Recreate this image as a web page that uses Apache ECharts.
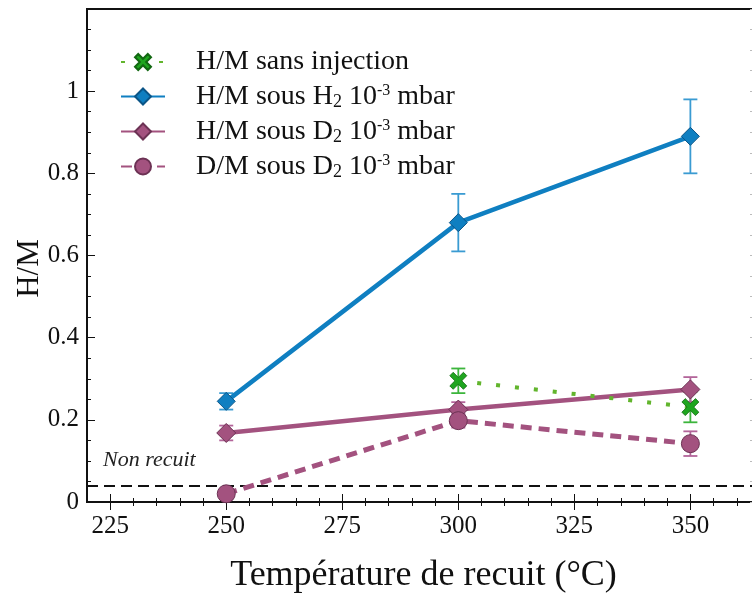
<!DOCTYPE html>
<html>
<head>
<meta charset="utf-8">
<script src="https://cdn.jsdelivr.net/npm/echarts@6/dist/echarts.min.js"></script>
<style>html,body{margin:0;padding:0;background:#fff;}#c{width:752px;height:595px;}</style>
</head>
<body>
<div id="c"></div>
<script>
// ---- data ----
const temps = [250, 300, 350];
const hmSans = [null, 0.295, 0.231];
const errSans = [null, 0.03, 0.037];
const hmH2 = [0.245, 0.68, 0.89];
const errH2 = [0.02, 0.07, 0.09];
const hmD2 = [0.168, 0.225, 0.274];
const errHD2 = [0.018, 0.018, 0.03];
const dmD2 = [0.02, 0.198, 0.142];
const errDD2 = [0, 0.017, 0.03];
const nonRecuit = 0.04;
const xTicks = [225, 250, 275, 300, 325, 350];
const xMinor = [225,230,235,240,245,250,255,260,265,270,275,280,285,290,295,300,305,310,315,320,325,330,335,340,345,350,355,360];
const yTicks = [0, 0.2, 0.4, 0.6, 0.8, 1, 1.2];
const yMinor = [0.05,0.1,0.15,0.25,0.3,0.35,0.45,0.5,0.55,0.65,0.7,0.75,0.85,0.9,0.95,1.05,1.1,1.15];
const names = ['H/M sans injection', 'H/M sous H2 10-3 mbar', 'H/M sous D2 10-3 mbar', 'D/M sous D2 10-3 mbar'];

const FONT = 'Liberation Serif';
const pts = (arr) => temps.map((t, i) => [t, arr[i]]).filter(p => p[1] !== null);
const errs = (v, e) => temps.map((t, i) => [t, v[i], e[i]]).filter(p => p[1] !== null && p[2]);

function errSeries(v, e, color) {
  return {
    type: 'custom', xAxisIndex: 0, yAxisIndex: 0, z: 4,
    data: errs(v, e).map(p => [p[0], p[1] - p[2], p[1] + p[2]]),
    renderItem: function (params, api) {
      const lo = api.coord([api.value(0), api.value(1)]);
      const hi = api.coord([api.value(0), api.value(2)]);
      const w = 7;
      const st = { stroke: color, lineWidth: 1.8 };
      return { type: 'group', children: [
        { type: 'line', shape: { x1: lo[0], y1: lo[1], x2: hi[0], y2: hi[1] }, style: st },
        { type: 'line', shape: { x1: lo[0] - w, y1: lo[1], x2: lo[0] + w, y2: lo[1] }, style: st },
        { type: 'line', shape: { x1: hi[0] - w, y1: hi[1], x2: hi[0] + w, y2: hi[1] }, style: st }
      ]};
    },
    silent: true
  };
}

const xBase = { type: 'value', min: 220, max: 365, splitLine: { show: false } };
const yBase = { type: 'value', min: 0, max: 1.2, splitLine: { show: false } };
const crossX = 'path://M2,0 L5,3 L8,0 L10,2 L7,5 L10,8 L8,10 L5,7 L2,10 L0,8 L3,5 L0,2 Z';

const chart = echarts.init(document.getElementById('c'), null, { renderer: 'canvas' });
chart.setOption({
  animation: false,
  backgroundColor: '#fff',
  grid: { left: 87, top: 9, right: -8, bottom: 93, show: true, borderColor: '#111', borderWidth: 2,
    backgroundColor: 'transparent', containLabel: false, outerBoundsMode: 'none' },
  legend: {
    data: names, left: 115, top: 43, orient: 'vertical', itemWidth: 44, itemHeight: 20, itemGap: 6,
    formatter: function (n) {
      if (n === names[0]) return '{n|H/M sans injection}';
      const parts = n.split(' ');
      const lead = parts[0] + ' ' + parts[1] + ' ' + parts[2].charAt(0);
      return '{n|' + lead + '}{sub|2}{n| 10}{sup|-3}{n| mbar}';
    },
    textStyle: {
      padding: [0, 0, 0, 26],
      rich: {
        n: { fontSize: 28, fontFamily: FONT, color: '#111', lineHeight: 28 },
        sub: { fontSize: 18, fontFamily: FONT, color: '#111', lineHeight: 28, padding: [11, 0, 0, 0] },
        sup: { fontSize: 16, fontFamily: FONT, color: '#111', lineHeight: 28, padding: [0, 0, 12, 0] }
      }
    }
  },
  xAxis: [
    Object.assign({}, xBase, {
      position: 'bottom',
      name: 'Température de recuit (°C)', nameLocation: 'middle', nameGap: 56, nameMoveOverlap: false,
      nameTextStyle: { fontSize: 36, fontFamily: FONT, color: '#111' },
      axisLine: { show: true, lineStyle: { color: '#111', width: 2 } },
      axisTick: { show: true, inside: true, length: 8, customValues: xTicks, lineStyle: { color: '#111', width: 1 } },
      axisLabel: { show: true, customValues: xTicks, margin: 12, fontSize: 25, fontFamily: FONT, color: '#111' }
    }),
    Object.assign({}, xBase, {
      position: 'bottom',
      axisLine: { show: false },
      axisTick: { show: true, inside: true, length: 4, customValues: xMinor, lineStyle: { color: '#111', width: 1 } },
      axisLabel: { show: false }
    }),
    Object.assign({}, xBase, {
      position: 'top',
      axisLine: { show: false },
      axisTick: { show: true, inside: true, length: 8, customValues: xTicks, lineStyle: { color: '#111', width: 1 } },
      axisLabel: { show: false }
    }),
    Object.assign({}, xBase, {
      position: 'top',
      axisLine: { show: false },
      axisTick: { show: true, inside: true, length: 4, customValues: xMinor, lineStyle: { color: '#111', width: 1 } },
      axisLabel: { show: false }
    })
  ],
  yAxis: [
    Object.assign({}, yBase, {
      position: 'left',
      name: 'H/M', nameLocation: 'middle', nameGap: 42, nameMoveOverlap: false,
      nameTextStyle: { fontSize: 31, fontFamily: FONT, color: '#111', padding: [0, 26, 0, 0] },
      axisLine: { show: true, lineStyle: { color: '#111', width: 2 } },
      axisTick: { show: true, inside: true, length: 8, customValues: yTicks, lineStyle: { color: '#111', width: 1 } },
      axisLabel: { show: true, customValues: yTicks.slice(0, 6), margin: 8, fontSize: 25, fontFamily: FONT, color: '#111' }
    }),
    Object.assign({}, yBase, {
      position: 'left',
      axisLine: { show: false },
      axisTick: { show: true, inside: true, length: 4, customValues: yMinor, lineStyle: { color: '#111', width: 1 } },
      axisLabel: { show: false }
    }),
    Object.assign({}, yBase, {
      position: 'right',
      axisLine: { show: false },
      axisTick: { show: true, inside: true, length: 10, customValues: yTicks, lineStyle: { color: '#bbb', width: 1 } },
      axisLabel: { show: false }
    }),
    Object.assign({}, yBase, {
      position: 'right',
      axisLine: { show: false },
      axisTick: { show: true, inside: true, length: 10, customValues: yMinor, lineStyle: { color: '#bbb', width: 1 } },
      axisLabel: { show: false }
    })
  ],
  series: [
    {
      name: names[0], type: 'line', xAxisIndex: 0, yAxisIndex: 0, z: 6,
      data: pts(hmSans),
      symbol: crossX, symbolSize: 17,
      itemStyle: { color: '#1fa51f', borderColor: '#126812', borderWidth: 0.8 },
      lineStyle: { color: '#62b52d', width: 4, type: [4, 15], cap: 'butt' },
      markLine: {
        silent: true, symbol: 'none',
        data: [{ yAxis: nonRecuit }],
        lineStyle: { color: '#111', width: 2, type: [11, 6] },
        label: { show: true, formatter: 'Non recuit', position: 'insideStartTop', distance: [16, 14],
          fontStyle: 'italic', fontSize: 22, fontFamily: FONT, color: '#222' }
      }
    },
    {
      name: names[1], type: 'line', xAxisIndex: 0, yAxisIndex: 0, z: 5,
      data: pts(hmH2),
      symbol: 'diamond', symbolSize: 18,
      itemStyle: { color: '#0f7fc1', borderColor: '#0b5587', borderWidth: 1 },
      lineStyle: { color: '#0f7fc1', width: 4.5 }
    },
    {
      name: names[2], type: 'line', xAxisIndex: 0, yAxisIndex: 0, z: 5,
      data: pts(hmD2),
      symbol: 'diamond', symbolSize: 19,
      itemStyle: { color: '#a3527f', borderColor: '#6c3254', borderWidth: 1 },
      lineStyle: { color: '#a3527f', width: 4.5 }
    },
    {
      name: names[3], type: 'line', xAxisIndex: 0, yAxisIndex: 0, z: 5,
      data: pts(dmD2),
      symbol: 'circle', symbolSize: 18,
      itemStyle: { color: '#a3527f', borderColor: '#6c3254', borderWidth: 1 },
      lineStyle: { color: '#a3527f', width: 5, type: [11, 7], cap: 'butt' }
    },
    errSeries(hmSans, errSans, '#3cb53c'),
    errSeries(hmH2, errH2, '#3a9bd2'),
    errSeries(hmD2, errHD2, '#b3659a'),
    errSeries(dmD2, errDD2, '#b3659a')
  ]
});
</script>
</body>
</html>
